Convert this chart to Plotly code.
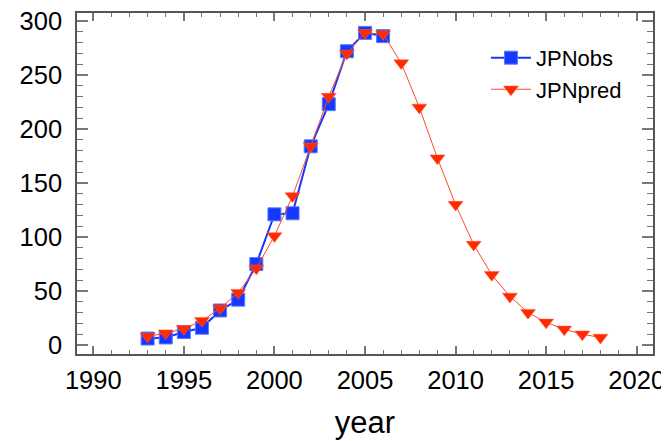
import plotly.graph_objects as go

obs_years = list(range(1993, 2007))
obs_values = [6, 7, 12, 16, 32, 42, 75, 121, 122, 184, 223, 272, 289, 286]

pred_years = list(range(1993, 2019))
pred_values = [8, 11, 15, 22.5, 34, 48.5, 71, 101, 138, 184, 230, 270, 289, 288,
               261, 220, 173, 130, 93, 65, 45, 30, 21, 14.5, 10, 7]

x_ticks = [1990, 1995, 2000, 2005, 2010, 2015, 2020]
y_ticks = [0, 50, 100, 150, 200, 250, 300]

FONT = "Liberation Sans, Arial, sans-serif"

fig = go.Figure()
fig.add_trace(go.Scatter(
    x=obs_years, y=obs_values, name="JPNobs", mode="lines+markers",
    line=dict(color="#1438ff", width=2),
    marker=dict(symbol="square", size=13, color="#1438ff",
                line=dict(color="#5a78ff", width=1)),
))
fig.add_trace(go.Scatter(
    x=pred_years, y=pred_values, name="JPNpred", mode="lines+markers",
    line=dict(color="#ff4a2a", width=1),
    marker=dict(symbol="triangle-down", size=13, color="#ff2a00",
                line=dict(color="#ff5a3a", width=0.5)),
))

# page body has an 8px margin, so the figure is 8px smaller and shifted
fig.update_layout(
    width=661, height=433,
    margin=dict(l=69, r=16, t=5, b=87),
    paper_bgcolor="white", plot_bgcolor="white",
    font=dict(family=FONT, color="black"),
    showlegend=True,
    legend=dict(x=0.71, y=0.93, xanchor="left", yanchor="top",
                bgcolor="rgba(0,0,0,0)", font=dict(size=22, family=FONT),
                itemwidth=40, tracegroupgap=0),
)
fig.update_xaxes(
    range=[1989.1, 2020.9], tickvals=x_ticks, ticktext=[str(v) for v in x_ticks],
    showgrid=False, zeroline=False, automargin=False, ticklabeloverflow="allow",
    showline=True, linecolor="#555555", linewidth=1.5, mirror="allticks",
    ticks="inside", ticklen=8, tickcolor="#777777", tickwidth=1.5,
    minor=dict(dtick=1, ticks="inside", ticklen=4, tickcolor="#777777", tickwidth=1),
    tickfont=dict(size=25.5, family=FONT), ticklabelstandoff=3,
    title=dict(text="year", font=dict(size=31, family=FONT), standoff=18),
)
fig.update_yaxes(
    range=[-8.3, 307.4], tickvals=y_ticks, ticktext=[str(v) for v in y_ticks],
    showgrid=False, zeroline=False, automargin=False, ticklabeloverflow="allow",
    showline=True, linecolor="#555555", linewidth=1.5, mirror="allticks",
    ticks="inside", ticklen=11, tickcolor="#777777", tickwidth=1.5,
    minor=dict(dtick=10, ticks="inside", ticklen=6, tickcolor="#777777", tickwidth=1),
    tickfont=dict(size=25.5, family=FONT), ticklabelstandoff=8,
)

fig.write_html("out.html")
